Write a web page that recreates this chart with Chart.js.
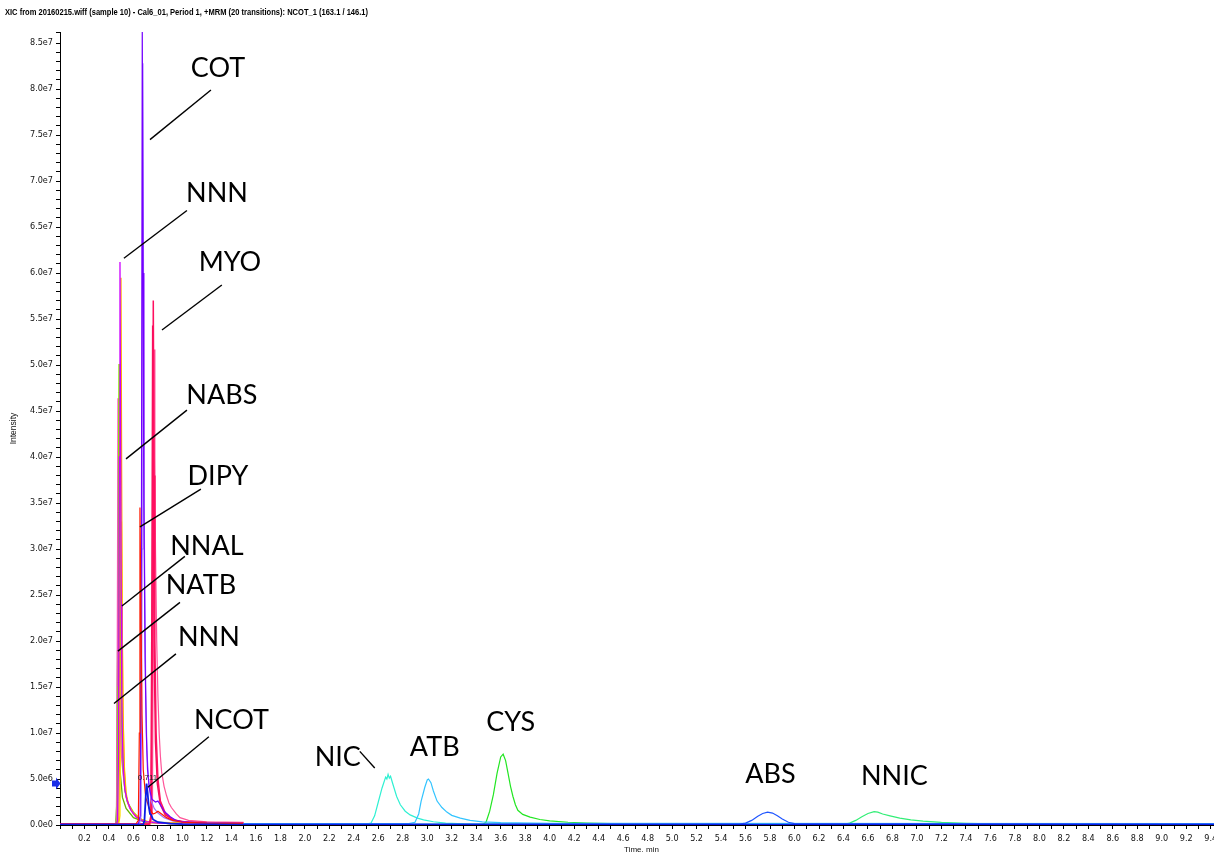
<!DOCTYPE html>
<html>
<head>
<meta charset="utf-8">
<script src="https://cdn.jsdelivr.net/npm/chart.js@4.4.1/dist/chart.umd.min.js"></script>
<style>
html,body{margin:0;padding:0;background:#fff;overflow:hidden;}
#wrap{position:absolute;left:0;top:0;width:1227px;height:860px;}
</style>
</head>
<body>
<div id="wrap"><canvas id="c" width="1227" height="860"></canvas></div>
<script>
// ---- DATA (time in min, intensity in units of 1e6 counts) ----
const chartTitle = 'XIC from 20160215.wiff (sample 10) - Cal6_01, Period 1, +MRM (20 transitions): NCOT_1 (163.1 / 146.1)';
const yTitle = 'Intensity';
const xTitle = 'Time, min';
const peakLabel = '0.711';

const ncot = [[0,0.05],[0.68,0.05],[0.69,0.5],[0.70,3.0],[0.707,4.5],[0.715,3.6],[0.725,2.0],[0.735,1.2],[0.745,1.1],[0.76,0.6],[0.8,0.3],[0.9,0.15],[1.0,0.1],[1.5,0.05],[9.5,0.05]];
const nnnA = [[0,0.1],[0.46,0.1],[0.47,0.4],[0.478,8],[0.485,40],[0.49,61.2],[0.495,42],[0.50,24],[0.505,14],[0.51,9],[0.52,5.5],[0.53,3.8],[0.55,2.6],[0.58,1.6],[0.62,0.9],[0.68,0.4],[0.8,0.2],[1.0,0.12],[1.5,0.1]];
const nabs = [[0,0.1],[0.47,0.1],[0.48,0.5],[0.488,12],[0.493,45],[0.498,59.5],[0.503,40],[0.508,22],[0.515,12],[0.525,6],[0.54,3.2],[0.56,2.2],[0.6,1.3],[0.65,0.7],[0.72,0.3],[0.9,0.15],[1.5,0.1]];
const nnal = [[0,0.1],[0.46,0.1],[0.468,0.6],[0.474,15],[0.478,38],[0.482,50.1],[0.488,36],[0.495,20],[0.505,10],[0.515,6],[0.53,3.8],[0.55,2.5],[0.6,1.4],[0.65,0.7],[0.72,0.3],[0.9,0.15],[1.5,0.1]];
const nnnB = [[0,0.1],[0.455,0.1],[0.462,0.6],[0.468,18],[0.474,46.4],[0.48,30],[0.487,17],[0.495,10],[0.505,7],[0.52,5],[0.54,3],[0.57,1.8],[0.62,0.9],[0.7,0.4],[0.85,0.2],[1.5,0.12]];
const yel = [[0,0.1],[0.48,0.1],[0.49,1],[0.496,15],[0.502,33],[0.508,22],[0.515,12],[0.525,6.5],[0.54,3.5],[0.56,2.2],[0.6,1.2],[0.66,0.6],[0.75,0.25],[1.5,0.1]];
const natb = [[0,0.1],[0.455,0.1],[0.462,2],[0.47,19],[0.478,12],[0.49,6],[0.51,3],[0.54,1.8],[0.6,0.8],[0.7,0.3],[1.5,0.1]];
const dipy = [[0,0.1],[0.62,0.1],[0.64,0.5],[0.648,10],[0.653,34.5],[0.66,25],[0.67,12],[0.68,6],[0.70,3],[0.73,1.8],[0.76,1.2],[0.78,1.3],[0.80,1.5],[0.83,1.2],[0.87,0.8],[0.92,0.5],[1.0,0.3],[1.2,0.2],[1.5,0.15]];
const cot = [[0,0.1],[0.64,0.1],[0.655,1],[0.665,30],[0.672,86.5],[0.678,60],[0.685,35],[0.695,18],[0.705,10],[0.715,6],[0.73,4],[0.75,2.8],[0.78,2.5],[0.80,2.6],[0.82,2.2],[0.85,1.5],[0.9,0.9],[0.95,0.5],[1.0,0.35],[1.2,0.2],[1.5,0.15]];
const cot2 = [[0,0.1],[0.65,0.1],[0.662,1],[0.671,30],[0.677,82.8],[0.683,55],[0.69,30],[0.70,15],[0.71,8],[0.725,4.5],[0.745,2.6],[0.77,1.8],[0.80,1.3],[0.85,0.8],[0.92,0.45],[1.0,0.3],[1.5,0.15]];
const myo = [[0,0.1],[0.73,0.1],[0.745,0.8],[0.755,20],[0.762,57],[0.768,38],[0.775,20],[0.785,10],[0.8,5],[0.82,2.6],[0.86,1.3],[0.92,0.6],[1.0,0.35],[1.2,0.25],[1.5,0.2]];
const myo2 = [[0,0.1],[0.73,0.1],[0.742,1],[0.75,22],[0.757,54.3],[0.763,35],[0.77,18],[0.78,9],[0.795,4.5],[0.82,2.2],[0.86,1.1],[0.93,0.5],[1.05,0.3],[1.5,0.2]];
const myo3 = [[0,0.1],[0.74,0.1],[0.755,1.5],[0.763,25],[0.77,51.7],[0.775,40],[0.78,30],[0.79,20],[0.80,14],[0.81,10],[0.82,7.5],[0.83,5.8],[0.85,4.2],[0.87,3.2],[0.89,2.4],[0.91,1.9],[0.95,1.2],[0.98,0.8],[1.05,0.5],[1.2,0.35],[1.5,0.3]];
const nic = [[1.5,0.1],[2.5,0.1],[2.54,0.2],[2.57,1.0],[2.60,2.5],[2.63,4.0],[2.66,5.2],[2.67,5.0],[2.68,5.5],[2.69,5.1],[2.70,5.3],[2.72,4.4],[2.75,3.1],[2.78,2.2],[2.82,1.5],[2.86,1.1],[2.92,0.75],[2.97,0.55],[3.05,0.35],[3.15,0.2],[3.3,0.12],[9.5,0.1]];
const atb = [[1.5,0.15],[2.85,0.15],[2.90,0.3],[2.93,1.2],[2.95,2.6],[2.98,4.1],[3.0,4.9],[3.01,5.0],[3.03,4.6],[3.05,3.7],[3.08,2.6],[3.12,1.9],[3.16,1.4],[3.2,1.05],[3.27,0.75],[3.35,0.5],[3.45,0.35],[3.6,0.25],[4.0,0.18],[9.5,0.15]];
const cys = [[1.5,0.05],[3.45,0.05],[3.48,0.3],[3.51,1.5],[3.54,3.3],[3.57,5.6],[3.60,7.4],[3.62,7.7],[3.64,7.0],[3.66,5.6],[3.68,4.2],[3.70,3.1],[3.72,2.2],[3.74,1.6],[3.78,1.15],[3.84,0.85],[3.92,0.6],[4.0,0.45],[4.15,0.3],[4.3,0.22],[4.6,0.12],[4.8,0.05],[9.5,0.05]];
const abs = [[1.5,0.1],[5.55,0.1],[5.6,0.2],[5.65,0.5],[5.7,0.95],[5.74,1.25],[5.78,1.4],[5.82,1.3],[5.86,1.0],[5.9,0.65],[5.95,0.3],[6.0,0.15],[9.5,0.1]];
const nnic = [[1.5,0.08],[6.4,0.08],[6.45,0.2],[6.5,0.5],[6.55,0.9],[6.6,1.25],[6.65,1.45],[6.68,1.4],[6.72,1.2],[6.78,1.0],[6.86,0.75],[6.95,0.55],[7.05,0.42],[7.2,0.28],[7.4,0.18],[7.6,0.12],[7.8,0.08],[9.5,0.08]];

// ---- annotation config (data coordinates) ----
const annotations = [
  {text:'COT',  at:[1.29,82.3],  from:[1.233,79.9], to:[0.735,74.5]},
  {text:'NNN',  at:[1.282,68.7], from:[1.037,66.8], to:[0.522,61.6]},
  {text:'MYO',  at:[1.388,61.2], from:[1.322,58.7], to:[0.833,53.8]},
  {text:'NABS', at:[1.322,46.7], from:[1.037,45.1], to:[0.539,39.8]},
  {text:'DIPY', at:[1.29,37.9],  from:[1.151,36.5], to:[0.653,32.4]},
  {text:'NNAL', at:[1.2,30.3],   from:[1.02,29.2],  to:[0.506,23.8]},
  {text:'NATB', at:[1.151,26.1], from:[0.98,24.2],  to:[0.473,18.9]},
  {text:'NNN',  at:[1.216,20.4], from:[0.947,18.6], to:[0.441,13.2]},
  {text:'NCOT', at:[1.40,11.4],  from:[1.216,9.6],  to:[0.718,4.1]},
  {text:'NIC',  at:[2.269,7.4],  from:[2.449,8.0],  to:[2.571,6.2]},
  {text:'ATB',  at:[3.061,8.4]},
  {text:'CYS',  at:[3.682,11.2]},
  {text:'ABS',  at:[5.804,5.5]},
  {text:'NNIC', at:[6.816,5.3]}
];

function sci(v){
  const x = Math.round(v) * 1e6;
  if (x === 0) return '0.0e0';
  const e = Math.floor(Math.log10(x) + 1e-9);
  return (x / Math.pow(10, e)).toFixed(1) + 'e' + e;
}

const ds = (label, data, color, width) => ({
  label, data: data.map(p => ({x:p[0], y:p[1]})),
  borderColor: color, borderWidth: width || 1, pointRadius: 0, tension: 0, fill: false
});

const datasets = [
  ds('NCOT', ncot, '#0a1ee6', 1.8),
  ds('ABS', abs, '#1f55ff', 1.2),
  ds('ATB', atb, '#33c4ff', 1.2),
  ds('NIC', nic, '#2ff0d2', 1.2),
  ds('CYS', cys, '#22e622', 1.2),
  ds('NNIC', nnic, '#33ee77', 1.2),
  ds('DIPY', dipy, '#ff1a00', 1.2),
  ds('COT', cot, '#7300ff', 1.2),
  ds('COT2', cot2, '#a070ff', 1.2),
  ds('MYO', myo, '#ff1060', 1.5),
  ds('MYO2', myo2, '#f0105a', 1.5),
  ds('MYO3', myo3, '#ff5599', 1.2),
  ds('NNN', nnnA, '#cc00ff', 1.3),
  ds('NABS', nabs, '#ffaa00', 1.3),
  ds('NNAL', nnal, '#88e600', 1.3),
  ds('NNN2', nnnB, '#ff44cc', 1.3),
  ds('Y', yel, '#ffdd00', 1.3),
  ds('NATB', natb, '#66b300', 1.3)
];

const overlay = {
  id: 'overlay',
  afterDatasetsDraw(chart){
    const {ctx, scales:{x, y}} = chart;
    ctx.save();
    ctx.strokeStyle = '#000';
    ctx.lineWidth = 1.4;
    ctx.fillStyle = '#000';
    ctx.font = '27px Lato, "Open Sans", sans-serif';
    ctx.textAlign = 'center';
    ctx.textBaseline = 'middle';
    annotations.forEach(a => {
      if (a.from) {
        ctx.beginPath();
        ctx.moveTo(x.getPixelForValue(a.from[0]), y.getPixelForValue(a.from[1]));
        ctx.lineTo(x.getPixelForValue(a.to[0]), y.getPixelForValue(a.to[1]));
        ctx.stroke();
      }
      ctx.fillText(a.text, x.getPixelForValue(a.at[0]), y.getPixelForValue(a.at[1]));
    });
    // peak RT label on NCOT apex
    let apex = ncot[0];
    ncot.forEach(p => { if (p[1] > apex[1]) apex = p; });
    const px = x.getPixelForValue(apex[0]), py = y.getPixelForValue(apex[1]);
    ctx.font = '8px "Liberation Sans", Arial, sans-serif';
    ctx.fillStyle = '#222';
    ctx.textBaseline = 'bottom';
    ctx.fillText(peakLabel, px + 1, py - 2);
    // blue marker arrow on y-axis at NCOT apex
    const ax = x.left;
    ctx.fillStyle = '#1a2ee8';
    ctx.beginPath();
    ctx.moveTo(ax - 8, py - 3);
    ctx.lineTo(ax - 4, py - 3);
    ctx.lineTo(ax - 4, py - 6);
    ctx.lineTo(ax + 0.5, py);
    ctx.lineTo(ax - 4, py + 6);
    ctx.lineTo(ax - 4, py + 3);
    ctx.lineTo(ax - 8, py + 3);
    ctx.closePath();
    ctx.fill();
    ctx.restore();
  },
  afterDraw(chart){
    const ctx = chart.ctx;
    ctx.save();
    ctx.font = 'bold 9.5px "Liberation Sans", Arial, sans-serif';
    ctx.fillStyle = '#000';
    ctx.textBaseline = 'middle';
    const w = ctx.measureText(chartTitle).width;
    ctx.translate(5, 12);
    ctx.scale(363 / w, 1);
    ctx.fillText(chartTitle, 0, 0);
    ctx.restore();
  }
};

const tickFont = {family: '"Liberation Sans Narrow", "DejaVu Sans Condensed", "Liberation Sans", Arial, sans-serif', size: 9};

new Chart(document.getElementById('c'), {
  type: 'line',
  data: { datasets },
  options: {
    responsive: false,
    devicePixelRatio: 1,
    animation: false,
    events: [],
    layout: { padding: { top: 32, left: 0, right: 0, bottom: 0 } },
    plugins: { legend: { display: false }, tooltip: { enabled: false }, title: { display: false } },
    scales: {
      x: {
        type: 'linear', min: 0, max: 9.5,
        afterFit(s){ s.height = 35; },
        border: { display: true, color: '#000', width: 1 },
        grid: { display: true, drawOnChartArea: false, drawTicks: true, tickLength: 4, color: '#000' },
        ticks: {
          stepSize: 0.1, autoSkip: false, maxRotation: 0, padding: 4, color: '#111', font: tickFont,
          callback(v){
            const k = v * 10;
            const r = Math.round(k);
            if (Math.abs(k - r) > 0.01 || r === 0 || r % 2 !== 0) return '';
            return (r / 10).toFixed(1);
          }
        },
        title: { display: true, text: xTitle, color: '#111', font: {family: '"Liberation Sans", Arial, sans-serif', size: 8}, padding: {top: 0, bottom: 5} }
      },
      y: {
        type: 'linear', min: 0, max: 86.2,
        afterFit(s){ s.width = 60; },
        border: { display: true, color: '#000', width: 1 },
        grid: { display: true, drawOnChartArea: false, drawTicks: true, tickLength: 4, color: '#000' },
        ticks: {
          stepSize: 1, autoSkip: false, padding: 3, color: '#111', font: tickFont,
          callback(v){
            const r = Math.round(v);
            if (Math.abs(v - r) > 1e-6 || r % 5 !== 0) return '';
            return sci(r);
          }
        },
        title: { display: true, text: yTitle, color: '#111', font: {family: '"Liberation Sans", Arial, sans-serif', size: 8.5}, padding: {top: 9, bottom: 0} }
      }
    }
  },
  plugins: [overlay]
});
</script>
</body>
</html>
